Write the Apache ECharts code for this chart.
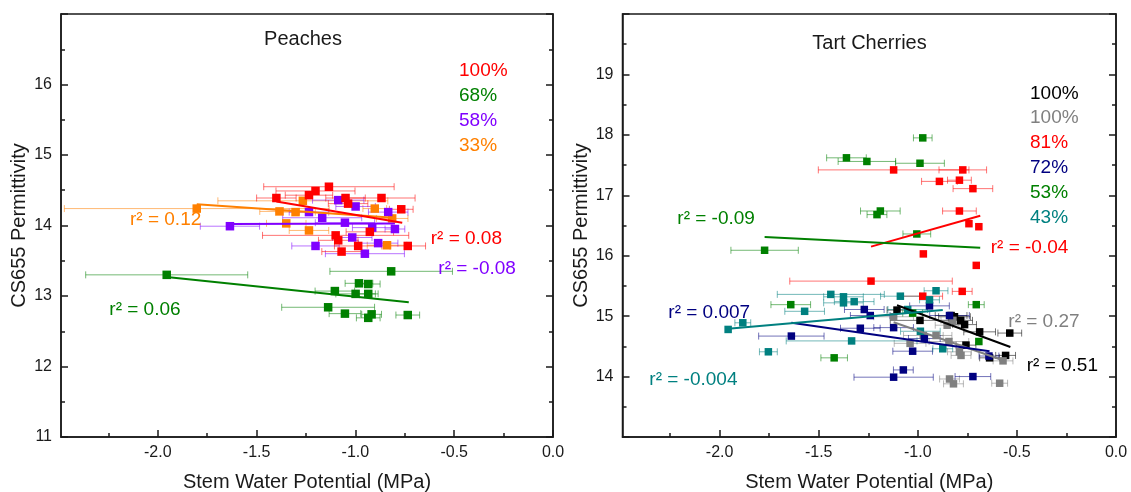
<!DOCTYPE html>
<html><head><meta charset="utf-8">
<script src="https://cdn.jsdelivr.net/npm/echarts@6.0.0/dist/echarts.min.js"></script>
<style>html,body{margin:0;padding:0;background:#fff}#c{width:1131px;height:492px}</style>
</head><body><div id="c"></div>
<script>
// ---- Data: [stem water potential (MPa), CS655 permittivity, x error half-width]
const peachLabels = ['100%', '68%', '58%', '33%'];
const peach100 = [[-1.134,14.55,0.33],[-1.202,14.49,0.20],[-1.235,14.43,0.12],[-1.400,14.39,0.10],[-1.050,14.39,0.10],[-1.037,14.31,0.10],[-0.868,14.39,0.17],[-0.768,14.23,0.06],[-1.100,13.86,0.37],[-1.087,13.79,0.10],[-0.927,13.91,0.12],[-0.986,13.71,0.12],[-1.070,13.63,0.10],[-0.735,13.71,0.09]];
const peach68 = [[-1.955,13.30,0.41],[-0.819,13.35,0.31],[-0.982,13.18,0.07],[-0.935,13.17,0.06],[-1.104,13.07,0.10],[-0.999,13.03,0.10],[-0.935,13.03,0.05],[-1.138,12.84,0.235],[-1.053,12.75,0.08],[-0.918,12.74,0.05],[-0.935,12.69,0.06],[-0.735,12.73,0.06]];
const peach58 = [[-1.635,13.99,0.15],[-1.087,14.36,0.13],[-0.999,14.27,0.10],[-1.235,14.19,0.10],[-1.168,14.11,0.20],[-1.053,14.04,0.15],[-0.834,14.19,0.10],[-0.915,13.97,0.10],[-0.800,13.95,0.05],[-1.016,13.83,0.10],[-0.885,13.75,0.10],[-1.202,13.71,0.12],[-0.952,13.60,0.20]];
const peach33 = [[-1.803,14.24,0.67],[-1.266,14.35,0.43],[-1.384,14.20,0.10],[-1.303,14.19,0.10],[-1.350,14.03,0.10],[-1.235,13.93,0.10],[-0.902,14.24,0.06],[-0.840,13.72,0.10],[-0.814,14.10,0.08]];
const peachFit100 = [[-1.400,14.34],[-0.763,14.04]];
const peachFit68 = [[-1.955,13.27],[-0.730,12.91]];
const peachFit58 = [[-1.635,14.02],[-0.800,14.03]];
const peachFit33 = [[-1.803,14.30],[-0.808,14.11]];
const peachR2 = ['0.08', '0.06', '-0.08', '0.12'];

const cherryLabels = ['100%', '100%', '81%', '72%', '53%', '43%'];
const cherry100k = [[-1.105,15.10,0.05],[-0.989,14.93,0.15],[-0.832,15.01,0.08],[-0.815,14.99,0.08],[-0.784,14.93,0.06],[-0.764,14.86,0.06],[-0.688,14.74,0.08],[-0.757,14.52,0.05],[-0.638,14.31,0.05],[-0.557,14.35,0.05],[-0.536,14.72,0.06]];
const cherry100g = [[-1.122,14.99,0.10],[-0.972,14.68,0.10],[-0.908,14.68,0.08],[-1.039,14.55,0.08],[-0.843,14.58,0.10],[-0.852,14.85,0.06],[-0.823,14.93,0.06],[-0.790,14.41,0.06],[-0.782,14.35,0.05],[-0.570,14.26,0.05],[-0.840,13.96,0.05],[-0.820,13.88,0.05],[-0.587,13.89,0.04]];
const cherry81 = [[-1.122,17.42,0.38],[-0.773,17.42,0.12],[-0.891,17.23,0.09],[-0.790,17.25,0.06],[-0.722,17.11,0.10],[-0.790,16.74,0.085],[-0.742,16.53,0],[-0.692,16.48,0],[-0.972,16.03,0],[-0.705,15.84,0],[-1.236,15.58,0.41],[-0.975,15.33,0.10],[-0.776,15.41,0.05]];
const cherry72 = [[-1.638,14.67,0.165],[-1.290,14.80,0.10],[-1.270,15.11,0.10],[-1.240,15.01,0.10],[-1.122,14.81,0.10],[-0.941,15.17,0.10],[-0.840,15.01,0.10],[-1.026,14.42,0.10],[-0.967,14.63,0.08],[-0.641,14.34,0.05],[-1.122,13.99,0.20],[-1.073,14.11,0.05],[-0.722,14.00,0.09]];
const cherry53 = [[-0.975,17.95,0.047],[-1.360,17.62,0.10],[-1.257,17.56,0.145],[-0.989,17.53,0.123],[-1.189,16.74,0.10],[-1.206,16.68,0.05],[-1.005,16.36,0.07],[-1.773,16.09,0.17],[-1.641,15.19,0.10],[-0.705,15.19,0.04],[-1.026,15.05,0.05],[-0.692,14.58,0],[-1.422,14.31,0.067]];
const cherry43 = [[-1.957,14.78,0],[-1.883,14.89,0.04],[-1.754,14.41,0.045],[-1.571,15.08,0.10],[-1.439,15.36,0.27],[-1.375,15.32,0.10],[-1.375,15.22,0.10],[-1.321,15.24,0.10],[-1.334,14.59,0.33],[-1.088,15.33,0.10],[-1.051,15.11,0.10],[-0.987,14.75,0.10],[-0.908,15.42,0.06],[-0.941,15.27,0.05],[-0.874,14.46,0.05]];
const cherryFit100k = [[-1.105,15.18],[-0.533,14.49]];
const cherryFit100g = [[-1.122,14.90],[-0.570,14.27]];
const cherryFit81 = [[-1.236,16.15],[-0.685,16.66]];
const cherryFit72 = [[-1.638,14.89],[-0.638,14.42]];
const cherryFit53 = [[-1.773,16.31],[-0.685,16.13]];
const cherryFit43 = [[-1.957,14.79],[-0.874,15.10]];
const cherryR2 = ['0.51', '0.27', '-0.04', '0.007', '-0.09', '-0.004'];

const xMajor = [-2.0, -1.5, -1.0, -0.5, 0.0];
const xMinor = [-2.25, -1.75, -1.25, -0.75, -0.25];

// ---- Styling
const FONT = '"Liberation Sans", Arial, Helvetica, sans-serif';
const AX = '#1a1a1a';
const C = { red: '#FF0000', green: '#008000', purple: '#8000FF', orange: '#FF8000',
            black: '#000000', gray: '#808080', navy: '#000080', teal: '#008080' };

const chart = echarts.init(document.getElementById('c'), null, { renderer: 'canvas' });

const grids = [
  { left: 61, top: 14, width: 492, height: 423 },
  { left: 622.5, top: 14, width: 493.5, height: 423 }
];

function mainX(gi) {
  return {
    type: 'value', gridIndex: gi, position: 'bottom', min: -2.49, max: 0,
    name: 'Stem Water Potential (MPa)', nameLocation: 'middle', nameGap: 35.5,
    nameTextStyle: { fontFamily: FONT, fontSize: 20, color: AX },
    axisLine: { show: true, onZero: false, lineStyle: { color: AX, width: 1.5 } },
    axisTick: { show: true, inside: true, length: 7, customValues: xMajor, lineStyle: { color: AX, width: 1.5 } },
    axisLabel: { show: true, margin: 8, customValues: xMajor, fontFamily: FONT, fontSize: 16, color: AX,
                 formatter: v => v.toFixed(1) },
    splitLine: { show: false }
  };
}
function minorX(gi) {
  return {
    type: 'value', gridIndex: gi, position: 'bottom', min: -2.49, max: 0,
    axisLine: { show: false, onZero: false },
    axisTick: { show: true, inside: true, length: 4, customValues: xMinor, lineStyle: { color: AX, width: 1.5 } },
    axisLabel: { show: false }, splitLine: { show: false }
  };
}
function yAx(gi, pos, min, max, labels) {
  return {
    type: 'value', gridIndex: gi, position: pos, min: min, max: max, interval: 1,
    name: pos === 'left' ? 'CS655 Permittivity' : '', nameLocation: 'middle',
    nameGap: gi === 0 ? 32 : 31,
    nameTextStyle: { fontFamily: FONT, fontSize: 20, color: AX },
    axisLine: { show: true, onZero: false, lineStyle: { color: AX, width: 1.5 } },
    axisTick: { show: true, inside: true, length: 7, lineStyle: { color: AX, width: 1.5 } },
    minorTick: { show: true, splitNumber: 2, length: 4, lineStyle: { color: AX, width: 1.5 } },
    axisLabel: { show: labels, margin: 9, fontFamily: FONT, fontSize: 16, color: AX,
                 formatter: v => (labels && v < max && !(gi === 1 && v === min)) ? String(v) : '' },
    splitLine: { show: false }, minorSplitLine: { show: false }
  };
}

function errSeries(xi, yi, data, color) {
  return {
    type: 'custom', xAxisIndex: xi, yAxisIndex: yi, data: data, clip: true, silent: true,
    encode: { x: 0, y: 1 },
    renderItem: function (params, api) {
      const x = api.value(0), y = api.value(1), e = api.value(2);
      if (!e) return null;
      const p1 = api.coord([x - e, y]), p2 = api.coord([x + e, y]);
      const st = { stroke: color, lineWidth: 1, opacity: 0.55 };
      return { type: 'group', children: [
        { type: 'line', shape: { x1: p1[0], y1: p1[1], x2: p2[0], y2: p2[1] }, style: st },
        { type: 'line', shape: { x1: p1[0], y1: p1[1] - 3.5, x2: p1[0], y2: p1[1] + 3.5 }, style: st },
        { type: 'line', shape: { x1: p2[0], y1: p2[1] - 3.5, x2: p2[0], y2: p2[1] + 3.5 }, style: st }
      ] };
    }
  };
}
function ptSeries(xi, yi, data, color, size) {
  return { type: 'scatter', xAxisIndex: xi, yAxisIndex: yi, data: data, symbol: 'rect',
           symbolSize: size, itemStyle: { color: color, opacity: 1 }, silent: true };
}
function fitSeries(xi, yi, data, color) {
  return { type: 'line', xAxisIndex: xi, yAxisIndex: yi, data: data, symbol: 'none',
           lineStyle: { color: color, width: 2 }, silent: true, z: 5 };
}

const peachGroups = [
  [peach33, peachFit33, C.orange],
  [peach68, peachFit68, C.green],
  [peach58, peachFit58, C.purple],
  [peach100, peachFit100, C.red]
];
const cherryGroups = [
  [cherry100k, cherryFit100k, C.black],
  [cherry100g, cherryFit100g, C.gray],
  [cherry81, cherryFit81, C.red],
  [cherry72, cherryFit72, C.navy],
  [cherry53, cherryFit53, C.green],
  [cherry43, cherryFit43, C.teal]
];

const series = [];
peachGroups.forEach(g => series.push(errSeries(0, 0, g[0], g[2])));
cherryGroups.forEach(g => series.push(errSeries(2, 2, g[0], g[2])));
peachGroups.forEach(g => series.push(ptSeries(0, 0, g[0], g[2], 8.5)));
cherryGroups.forEach(g => series.push(ptSeries(2, 2, g[0], g[2], 7.5)));
peachGroups.forEach(g => series.push(fitSeries(0, 0, g[1], g[2])));
cherryGroups.forEach(g => series.push(fitSeries(2, 2, g[1], g[2])));

function txt(x, y, text, color, size, align) {
  return { type: 'text', x: x, y: y, z: 100, silent: true,
           style: { text: text, fill: color, font: size + 'px ' + FONT,
                    textAlign: align || 'left', textVerticalAlign: 'middle' } };
}
const peachColors = [C.red, C.green, C.purple, C.orange];
const cherryColors = [C.black, C.gray, C.red, C.navy, C.green, C.teal];
const graphics = [
  txt(303, 39, 'Peaches', AX, 20, 'center'),
  txt(869.5, 43, 'Tart Cherries', AX, 20, 'center')
];
peachLabels.forEach((t, i) => graphics.push(txt(459, 71 + i * 24.8, t, peachColors[i], 19)));
cherryLabels.forEach((t, i) => graphics.push(txt(1030, 93.3 + i * 24.8, t, cherryColors[i], 19)));
const peachR2Pos = [[430.7, 238.3], [109.3, 309.3], [438.3, 268.3], [130, 220]];
peachR2.forEach((t, i) => graphics.push(txt(peachR2Pos[i][0], peachR2Pos[i][1], 'r² = ' + t, peachColors[i], 19)));
const cherryR2Pos = [[1026.7, 366], [1008.3, 321.7], [990.7, 247.3], [668.3, 312.7], [677.3, 218.3], [649.3, 380]];
cherryR2.forEach((t, i) => graphics.push(txt(cherryR2Pos[i][0], cherryR2Pos[i][1], 'r² = ' + t, cherryColors[i], 19)));

chart.setOption({
  animation: false,
  backgroundColor: '#ffffff',
  grid: grids.map(g => Object.assign({ show: true, borderColor: AX, borderWidth: 1.5, backgroundColor: 'transparent',
                                       containLabel: false, outerBoundsMode: 'none' }, g)),
  xAxis: [mainX(0), minorX(0), mainX(1), minorX(1)],
  yAxis: [yAx(0, 'left', 11, 17, true), yAx(0, 'right', 11, 17, false),
          yAx(1, 'left', 13, 20, true), yAx(1, 'right', 13, 20, false)],
  series: series,
  graphic: graphics
});
</script>
</body></html>
